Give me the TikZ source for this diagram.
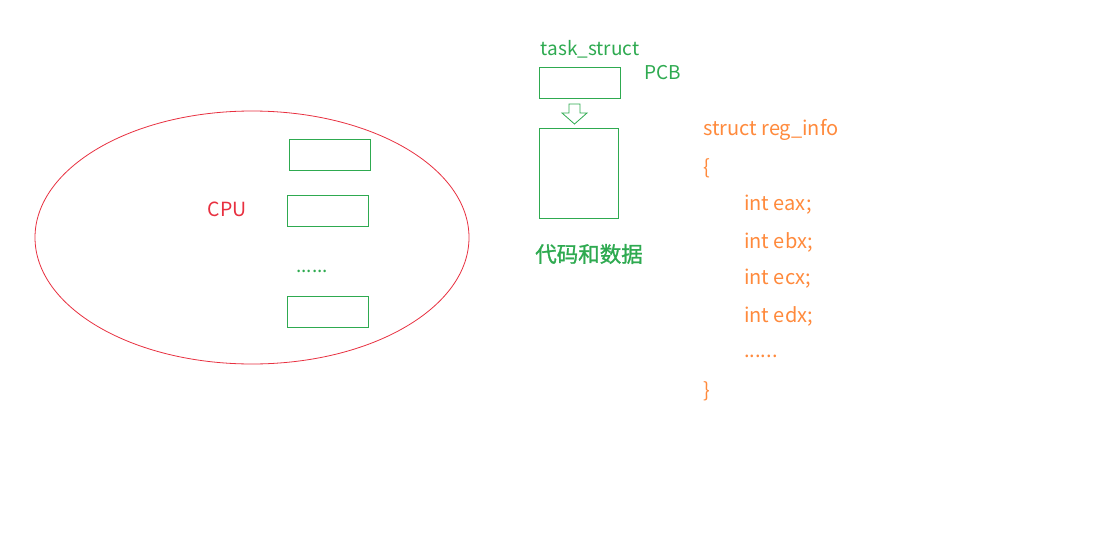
\documentclass[tikz,border=0pt]{standalone}
\usepackage{fontspec}
\setmainfont{Noto Sans CJK SC}
\newfontfamily\cjkmid[FakeBold=1.2]{Noto Sans CJK SC}
\usetikzlibrary{shapes.geometric}
\definecolor{cred}{RGB}{232,48,64}
\definecolor{cgreen}{RGB}{46,170,80}
\definecolor{corange}{RGB}{255,138,60}
\begin{document}
\begin{tikzpicture}[x=1pt,y=-1pt,
  reg/.style={draw=cgreen, line width=0.9pt, minimum width=81pt, minimum height=31pt, inner sep=0pt},
  gtext/.style={text=cgreen, font=\fontsize{19}{22}\selectfont, inner sep=0pt},
  otext/.style={text=corange, font=\fontsize{20}{24}\selectfont, inner sep=0pt, anchor=west}]
\useasboundingbox[fill=white] (0,0) rectangle (1097,554);
\node[draw=cred, line width=0.8pt, ellipse, minimum width=434pt, minimum height=253pt, inner sep=0pt] (cpu) at (252,237.5) {};
\node[text=cred, font=\fontsize{19.5}{22}\selectfont, inner sep=0pt] (cpulbl) at (227,209) {CPU};
\node[reg] (r1) at (329.5,154.5) {};
\node[reg] (r2) at (327.5,210.5) {};
\node[reg] (r3) at (327.5,311.5) {};
\node[gtext] (rdots) at (312,271) {......};
\node[gtext] (ts) at (590,49) {task\_struct};
\node[gtext] (pcb) at (663,73) {PCB};
\node[reg, minimum width=81pt, minimum height=31pt] (pcbbox) at (579.5,82.5) {};
\node[reg, minimum width=79pt, minimum height=90pt] (code) at (578.5,173) {};
\node[text=cgreen, font=\fontsize{21.5}{24}\selectfont\cjkmid, inner sep=0pt] (codelbl) at (589,254) {代码和数据};
\draw[cgreen, line width=0.8pt, line join=miter] (569,104) -- (580,104) -- (580,113) -- (587,113) -- (574.5,124) -- (562,113) -- (569,113) -- cycle;
\node[otext] (l1) at (703,130) {struct reg\_info};
\node[otext] (l2) at (703,168) {\{};
\node[otext] (l3) at (744,205) {int eax;};
\node[otext] (l4) at (744,242) {int ebx;};
\node[otext] (l5) at (744,279) {int ecx;};
\node[otext] (l6) at (744,316) {int edx;};
\node[otext] (l7) at (744,356) {......};
\node[otext] (l8) at (703,391) {\}};
\end{tikzpicture}
\end{document}
